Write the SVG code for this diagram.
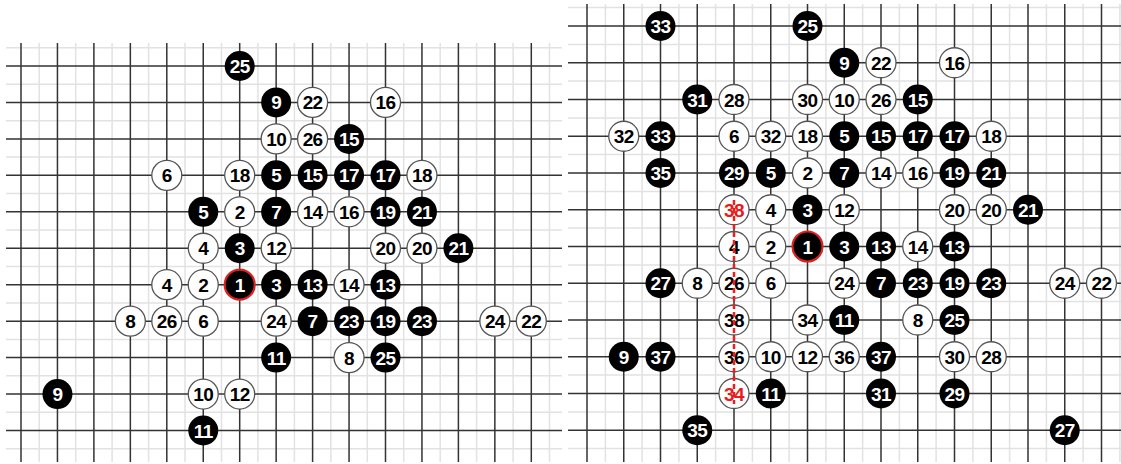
<svg xmlns="http://www.w3.org/2000/svg" width="1121" height="464" viewBox="0 0 1121 464">
<style>
.light{stroke:#e2e2e2;stroke-width:1.5;fill:none}
.major{stroke:#333;stroke-width:1.5;fill:none}
.b circle{fill:#000}
.b text{fill:#fff}
.w circle{fill:#fff;stroke:#555;stroke-width:1.3}
.w text{fill:#000}
.first circle{stroke:#d22;stroke-width:2.2}
.red text{fill:#e81c1c}
text{font-family:"Liberation Sans",Arial,sans-serif;font-weight:bold;font-size:19px;letter-spacing:-0.6px;text-anchor:middle}
</style>
<rect width="1121" height="464" fill="#fff"/>
<g id="left-grid">
<path class="light" d="M39.2 43V462M75.7 43V462M112.1 43V462M148.6 43V462M185 43V462M221.5 43V462M257.9 43V462M294.4 43V462M330.8 43V462M367.3 43V462M403.7 43V462M440.2 43V462M476.6 43V462M513.1 43V462M549.5 43V462M6 47.8H562M6 84.2H562M6 120.7H562M6 157.1H562M6 193.6H562M6 230H562M6 266.5H562M6 302.9H562M6 339.4H562M6 375.8H562M6 412.3H562M6 448.7H562"/>
<path class="major" d="M21 43V462M57.45 43V462M93.9 43V462M130.35 43V462M166.8 43V462M203.25 43V462M239.7 43V462M276.15 43V462M312.6 43V462M349.05 43V462M385.5 43V462M421.95 43V462M458.4 43V462M494.85 43V462M531.3 43V462M6 66H562M6 102.45H562M6 138.9H562M6 175.35H562M6 211.8H562M6 248.25H562M6 284.7H562M6 321.15H562M6 357.6H562M6 394.05H562M6 430.5H562"/>
</g>
<g id="right-grid">
<path class="light" d="M605.4 4V462M642.1 4V462M678.9 4V462M715.6 4V462M752.4 4V462M789.1 4V462M825.9 4V462M862.6 4V462M899.4 4V462M936.1 4V462M972.9 4V462M1009.6 4V462M1046.4 4V462M1083.1 4V462M1119.9 4V462M568 7.6H1121M568 44.4H1121M568 81.1H1121M568 117.9H1121M568 154.6H1121M568 191.4H1121M568 228.1H1121M568 264.9H1121M568 301.6H1121M568 338.4H1121M568 375.1H1121M568 411.9H1121M568 448.6H1121"/>
<path class="major" d="M587 4V462M623.75 4V462M660.5 4V462M697.25 4V462M734 4V462M770.75 4V462M807.5 4V462M844.25 4V462M881 4V462M917.75 4V462M954.5 4V462M991.25 4V462M1028 4V462M1064.75 4V462M1101.5 4V462M568 26H1121M568 62.75H1121M568 99.5H1121M568 136.25H1121M568 173H1121M568 209.75H1121M568 246.5H1121M568 283.25H1121M568 320H1121M568 356.75H1121M568 393.5H1121M568 430.25H1121"/>
</g>
<g id="left-stones">
<g id="L-b25" class="b" transform="translate(239.7,66)"><circle r="15"/><text y="7">25</text></g>
<g id="L-b9a" class="b" transform="translate(276.15,102.45)"><circle r="15"/><text y="7">9</text></g>
<g id="L-w22" class="w" transform="translate(312.6,102.45)"><circle r="15"/><text y="7">22</text></g>
<g id="L-w16a" class="w" transform="translate(385.5,102.45)"><circle r="15"/><text y="7">16</text></g>
<g id="L-w10a" class="w" transform="translate(276.15,138.9)"><circle r="15"/><text y="7">10</text></g>
<g id="L-w26a" class="w" transform="translate(312.6,138.9)"><circle r="15"/><text y="7">26</text></g>
<g id="L-b15a" class="b" transform="translate(349.05,138.9)"><circle r="15"/><text y="7">15</text></g>
<g id="L-w6a" class="w" transform="translate(166.8,175.35)"><circle r="15"/><text y="7">6</text></g>
<g id="L-w18a" class="w" transform="translate(239.7,175.35)"><circle r="15"/><text y="7">18</text></g>
<g id="L-b5a" class="b" transform="translate(276.15,175.35)"><circle r="15"/><text y="7">5</text></g>
<g id="L-b15b" class="b" transform="translate(312.6,175.35)"><circle r="15"/><text y="7">15</text></g>
<g id="L-b17a" class="b" transform="translate(349.05,175.35)"><circle r="15"/><text y="7">17</text></g>
<g id="L-b17b" class="b" transform="translate(385.5,175.35)"><circle r="15"/><text y="7">17</text></g>
<g id="L-w18b" class="w" transform="translate(421.95,175.35)"><circle r="15"/><text y="7">18</text></g>
<g id="L-b5b" class="b" transform="translate(203.25,211.8)"><circle r="15"/><text y="7">5</text></g>
<g id="L-w2a" class="w" transform="translate(239.7,211.8)"><circle r="15"/><text y="7">2</text></g>
<g id="L-b7a" class="b" transform="translate(276.15,211.8)"><circle r="15"/><text y="7">7</text></g>
<g id="L-w14a" class="w" transform="translate(312.6,211.8)"><circle r="15"/><text y="7">14</text></g>
<g id="L-w16b" class="w" transform="translate(349.05,211.8)"><circle r="15"/><text y="7">16</text></g>
<g id="L-b19a" class="b" transform="translate(385.5,211.8)"><circle r="15"/><text y="7">19</text></g>
<g id="L-b21a" class="b" transform="translate(421.95,211.8)"><circle r="15"/><text y="7">21</text></g>
<g id="L-w4a" class="w" transform="translate(203.25,248.25)"><circle r="15"/><text y="7">4</text></g>
<g id="L-b3a" class="b" transform="translate(239.7,248.25)"><circle r="15"/><text y="7">3</text></g>
<g id="L-w12a" class="w" transform="translate(276.15,248.25)"><circle r="15"/><text y="7">12</text></g>
<g id="L-w20a" class="w" transform="translate(385.5,248.25)"><circle r="15"/><text y="7">20</text></g>
<g id="L-w20b" class="w" transform="translate(421.95,248.25)"><circle r="15"/><text y="7">20</text></g>
<g id="L-b21b" class="b" transform="translate(458.4,248.25)"><circle r="15"/><text y="7">21</text></g>
<g id="L-w4b" class="w" transform="translate(166.8,284.7)"><circle r="15"/><text y="7">4</text></g>
<g id="L-w2b" class="w" transform="translate(203.25,284.7)"><circle r="15"/><text y="7">2</text></g>
<g id="L-b1" class="b first" transform="translate(239.7,284.7)"><circle r="15"/><text y="7">1</text></g>
<g id="L-b3b" class="b" transform="translate(276.15,284.7)"><circle r="15"/><text y="7">3</text></g>
<g id="L-b13a" class="b" transform="translate(312.6,284.7)"><circle r="15"/><text y="7">13</text></g>
<g id="L-w14b" class="w" transform="translate(349.05,284.7)"><circle r="15"/><text y="7">14</text></g>
<g id="L-b13b" class="b" transform="translate(385.5,284.7)"><circle r="15"/><text y="7">13</text></g>
<g id="L-w8a" class="w" transform="translate(130.35,321.15)"><circle r="15"/><text y="7">8</text></g>
<g id="L-w26b" class="w" transform="translate(166.8,321.15)"><circle r="15"/><text y="7">26</text></g>
<g id="L-w6b" class="w" transform="translate(203.25,321.15)"><circle r="15"/><text y="7">6</text></g>
<g id="L-w24a" class="w" transform="translate(276.15,321.15)"><circle r="15"/><text y="7">24</text></g>
<g id="L-b7b" class="b" transform="translate(312.6,321.15)"><circle r="15"/><text y="7">7</text></g>
<g id="L-b23a" class="b" transform="translate(349.05,321.15)"><circle r="15"/><text y="7">23</text></g>
<g id="L-b19b" class="b" transform="translate(385.5,321.15)"><circle r="15"/><text y="7">19</text></g>
<g id="L-b23b" class="b" transform="translate(421.95,321.15)"><circle r="15"/><text y="7">23</text></g>
<g id="L-w24b" class="w" transform="translate(494.85,321.15)"><circle r="15"/><text y="7">24</text></g>
<g id="L-w22b" class="w" transform="translate(531.3,321.15)"><circle r="15"/><text y="7">22</text></g>
<g id="L-b11a" class="b" transform="translate(276.15,357.6)"><circle r="15"/><text y="7">11</text></g>
<g id="L-w8b" class="w" transform="translate(349.05,357.6)"><circle r="15"/><text y="7">8</text></g>
<g id="L-b25b" class="b" transform="translate(385.5,357.6)"><circle r="15"/><text y="7">25</text></g>
<g id="L-b9b" class="b" transform="translate(57.45,394.05)"><circle r="15"/><text y="7">9</text></g>
<g id="L-w10b" class="w" transform="translate(203.25,394.05)"><circle r="15"/><text y="7">10</text></g>
<g id="L-w12b" class="w" transform="translate(239.7,394.05)"><circle r="15"/><text y="7">12</text></g>
<g id="L-b11b" class="b" transform="translate(203.25,430.5)"><circle r="15"/><text y="7">11</text></g>
</g>
<g id="right-stones">
<g id="R-b33a" class="b" transform="translate(660.5,26)"><circle r="15"/><text y="7">33</text></g>
<g id="R-b25a" class="b" transform="translate(807.5,26)"><circle r="15"/><text y="7">25</text></g>
<g id="R-b9a" class="b" transform="translate(844.25,62.75)"><circle r="15"/><text y="7">9</text></g>
<g id="R-w22a" class="w" transform="translate(881,62.75)"><circle r="15"/><text y="7">22</text></g>
<g id="R-w16a" class="w" transform="translate(954.5,62.75)"><circle r="15"/><text y="7">16</text></g>
<g id="R-b31a" class="b" transform="translate(697.25,99.5)"><circle r="15"/><text y="7">31</text></g>
<g id="R-w28a" class="w" transform="translate(734,99.5)"><circle r="15"/><text y="7">28</text></g>
<g id="R-w30a" class="w" transform="translate(807.5,99.5)"><circle r="15"/><text y="7">30</text></g>
<g id="R-w10a" class="w" transform="translate(844.25,99.5)"><circle r="15"/><text y="7">10</text></g>
<g id="R-w26a" class="w" transform="translate(881,99.5)"><circle r="15"/><text y="7">26</text></g>
<g id="R-b15a" class="b" transform="translate(917.75,99.5)"><circle r="15"/><text y="7">15</text></g>
<g id="R-w32a" class="w" transform="translate(623.75,136.25)"><circle r="15"/><text y="7">32</text></g>
<g id="R-b33b" class="b" transform="translate(660.5,136.25)"><circle r="15"/><text y="7">33</text></g>
<g id="R-w6a" class="w" transform="translate(734,136.25)"><circle r="15"/><text y="7">6</text></g>
<g id="R-w32b" class="w" transform="translate(770.75,136.25)"><circle r="15"/><text y="7">32</text></g>
<g id="R-w18a" class="w" transform="translate(807.5,136.25)"><circle r="15"/><text y="7">18</text></g>
<g id="R-b5a" class="b" transform="translate(844.25,136.25)"><circle r="15"/><text y="7">5</text></g>
<g id="R-b15b" class="b" transform="translate(881,136.25)"><circle r="15"/><text y="7">15</text></g>
<g id="R-b17a" class="b" transform="translate(917.75,136.25)"><circle r="15"/><text y="7">17</text></g>
<g id="R-b17b" class="b" transform="translate(954.5,136.25)"><circle r="15"/><text y="7">17</text></g>
<g id="R-w18b" class="w" transform="translate(991.25,136.25)"><circle r="15"/><text y="7">18</text></g>
<g id="R-b35a" class="b" transform="translate(660.5,173)"><circle r="15"/><text y="7">35</text></g>
<g id="R-b29a" class="b" transform="translate(734,173)"><circle r="15"/><text y="7">29</text></g>
<g id="R-b5b" class="b" transform="translate(770.75,173)"><circle r="15"/><text y="7">5</text></g>
<g id="R-w2a" class="w" transform="translate(807.5,173)"><circle r="15"/><text y="7">2</text></g>
<g id="R-b7a" class="b" transform="translate(844.25,173)"><circle r="15"/><text y="7">7</text></g>
<g id="R-w14a" class="w" transform="translate(881,173)"><circle r="15"/><text y="7">14</text></g>
<g id="R-w16b" class="w" transform="translate(917.75,173)"><circle r="15"/><text y="7">16</text></g>
<g id="R-b19a" class="b" transform="translate(954.5,173)"><circle r="15"/><text y="7">19</text></g>
<g id="R-b21a" class="b" transform="translate(991.25,173)"><circle r="15"/><text y="7">21</text></g>
<g id="R-w38a" class="w red" transform="translate(734,209.75)"><circle r="15"/><text y="7">38</text></g>
<g id="R-w4a" class="w" transform="translate(770.75,209.75)"><circle r="15"/><text y="7">4</text></g>
<g id="R-b3a" class="b" transform="translate(807.5,209.75)"><circle r="15"/><text y="7">3</text></g>
<g id="R-w12a" class="w" transform="translate(844.25,209.75)"><circle r="15"/><text y="7">12</text></g>
<g id="R-w20a" class="w" transform="translate(954.5,209.75)"><circle r="15"/><text y="7">20</text></g>
<g id="R-w20b" class="w" transform="translate(991.25,209.75)"><circle r="15"/><text y="7">20</text></g>
<g id="R-b21b" class="b" transform="translate(1028,209.75)"><circle r="15"/><text y="7">21</text></g>
<g id="R-w4b" class="w" transform="translate(734,246.5)"><circle r="15"/><text y="7">4</text></g>
<g id="R-w2b" class="w" transform="translate(770.75,246.5)"><circle r="15"/><text y="7">2</text></g>
<g id="R-b1" class="b first" transform="translate(807.5,246.5)"><circle r="15"/><text y="7">1</text></g>
<g id="R-b3b" class="b" transform="translate(844.25,246.5)"><circle r="15"/><text y="7">3</text></g>
<g id="R-b13a" class="b" transform="translate(881,246.5)"><circle r="15"/><text y="7">13</text></g>
<g id="R-w14b" class="w" transform="translate(917.75,246.5)"><circle r="15"/><text y="7">14</text></g>
<g id="R-b13b" class="b" transform="translate(954.5,246.5)"><circle r="15"/><text y="7">13</text></g>
<g id="R-b27a" class="b" transform="translate(660.5,283.25)"><circle r="15"/><text y="7">27</text></g>
<g id="R-w8a" class="w" transform="translate(697.25,283.25)"><circle r="15"/><text y="7">8</text></g>
<g id="R-w26b" class="w" transform="translate(734,283.25)"><circle r="15"/><text y="7">26</text></g>
<g id="R-w6b" class="w" transform="translate(770.75,283.25)"><circle r="15"/><text y="7">6</text></g>
<g id="R-w24a" class="w" transform="translate(844.25,283.25)"><circle r="15"/><text y="7">24</text></g>
<g id="R-b7b" class="b" transform="translate(881,283.25)"><circle r="15"/><text y="7">7</text></g>
<g id="R-b23a" class="b" transform="translate(917.75,283.25)"><circle r="15"/><text y="7">23</text></g>
<g id="R-b19b" class="b" transform="translate(954.5,283.25)"><circle r="15"/><text y="7">19</text></g>
<g id="R-b23b" class="b" transform="translate(991.25,283.25)"><circle r="15"/><text y="7">23</text></g>
<g id="R-w24b" class="w" transform="translate(1064.75,283.25)"><circle r="15"/><text y="7">24</text></g>
<g id="R-w22b" class="w" transform="translate(1101.5,283.25)"><circle r="15"/><text y="7">22</text></g>
<g id="R-w38b" class="w" transform="translate(734,320)"><circle r="15"/><text y="7">38</text></g>
<g id="R-w34a" class="w" transform="translate(807.5,320)"><circle r="15"/><text y="7">34</text></g>
<g id="R-b11a" class="b" transform="translate(844.25,320)"><circle r="15"/><text y="7">11</text></g>
<g id="R-w8b" class="w" transform="translate(917.75,320)"><circle r="15"/><text y="7">8</text></g>
<g id="R-b25b" class="b" transform="translate(954.5,320)"><circle r="15"/><text y="7">25</text></g>
<g id="R-b9b" class="b" transform="translate(623.75,356.75)"><circle r="15"/><text y="7">9</text></g>
<g id="R-b37a" class="b" transform="translate(660.5,356.75)"><circle r="15"/><text y="7">37</text></g>
<g id="R-w36a" class="w" transform="translate(734,356.75)"><circle r="15"/><text y="7">36</text></g>
<g id="R-w10b" class="w" transform="translate(770.75,356.75)"><circle r="15"/><text y="7">10</text></g>
<g id="R-w12b" class="w" transform="translate(807.5,356.75)"><circle r="15"/><text y="7">12</text></g>
<g id="R-w36b" class="w" transform="translate(844.25,356.75)"><circle r="15"/><text y="7">36</text></g>
<g id="R-b37b" class="b" transform="translate(881,356.75)"><circle r="15"/><text y="7">37</text></g>
<g id="R-w30b" class="w" transform="translate(954.5,356.75)"><circle r="15"/><text y="7">30</text></g>
<g id="R-w28b" class="w" transform="translate(991.25,356.75)"><circle r="15"/><text y="7">28</text></g>
<g id="R-w34b" class="w red" transform="translate(734,393.5)"><circle r="15"/><text y="7">34</text></g>
<g id="R-b11b" class="b" transform="translate(770.75,393.5)"><circle r="15"/><text y="7">11</text></g>
<g id="R-b31b" class="b" transform="translate(881,393.5)"><circle r="15"/><text y="7">31</text></g>
<g id="R-b29b" class="b" transform="translate(954.5,393.5)"><circle r="15"/><text y="7">29</text></g>
<g id="R-b35b" class="b" transform="translate(697.25,430.25)"><circle r="15"/><text y="7">35</text></g>
<g id="R-b27b" class="b" transform="translate(1064.75,430.25)"><circle r="15"/><text y="7">27</text></g>
</g>
<g id="connectors">
<path d="M734 200V404" stroke="#ea1f1f" stroke-width="2.5" stroke-dasharray="5 3" fill="none"/>
</g>
</svg>
